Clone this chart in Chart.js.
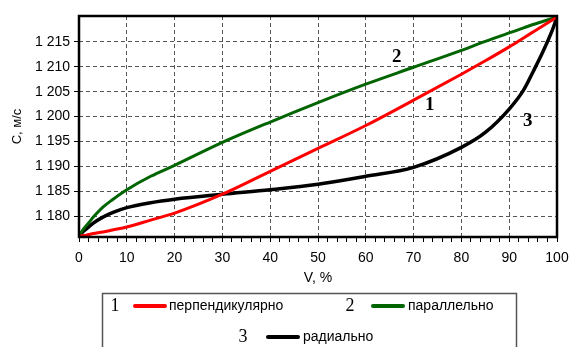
<!DOCTYPE html>
<html>
<head>
<meta charset="utf-8">
<script src="https://cdn.jsdelivr.net/npm/chart.js@4"></script>
<style>
  html, body { margin: 0; padding: 0; background: #fff; }
  canvas { display: block; }
</style>
</head>
<body>
<canvas id="velocityChart" width="569" height="347"></canvas>
<script>
const volumePercent = [0, 1, 2, 3, 5, 7, 10, 15, 20, 30, 40, 50, 60, 70, 80, 85, 90, 93, 95, 97, 99, 100];
const perpendicular = [1176, 1176.1, 1176.3, 1176.5, 1176.8, 1177.2, 1177.8, 1179.2, 1180.6, 1184.4, 1189, 1193.6, 1198.2, 1203.3, 1208.5, 1211.2, 1214, 1215.8, 1217, 1218.2, 1219.4, 1220];
const parallel = [1176, 1177.5, 1178.6, 1179.8, 1181.8, 1183.3, 1185.3, 1188, 1190.2, 1194.8, 1198.9, 1202.8, 1206.5, 1209.9, 1213.3, 1215.1, 1216.8, 1217.8, 1218.5, 1219.1, 1219.7, 1220];
const radial = [1176, 1177, 1177.8, 1178.6, 1179.8, 1180.7, 1181.7, 1182.7, 1183.4, 1184.4, 1185.3, 1186.4, 1188, 1189.8, 1193.8, 1196.8, 1201.5, 1205.3, 1209, 1212.9, 1217.3, 1220];

const seriesNames = ["перпендикулярно", "параллельно", "радиально"];
const seriesNumbers = ["1", "2", "3"];
const seriesColors = ["#ff0000", "#006400", "#000000"];

const yTickValues = [1180, 1185, 1190, 1195, 1200, 1205, 1210, 1215];
const xTickStep = 2;

// where the curve numbers sit, in data units
const curveLabels = [
  { text: "2", x: 66.5, y: 1212 },
  { text: "1", x: 73.4, y: 1202.4 },
  { text: "3", x: 93.9, y: 1199 },
];

function toPoints(values) {
  return values.map((v, i) => ({ x: volumePercent[i], y: v }));
}

function formatThousands(value) {
  const head = Math.floor(value / 1000);
  const tail = String(value % 1000).padStart(3, "0");
  return `${head} ${tail}`;
}

function isMajorInner(value) {
  return value % 10 === 0 && value > 0 && value < 100;
}

const framePlugin = {
  id: "frame",
  afterDraw(chart) {
    const { ctx, chartArea, scales } = chart;
    const { left, right, top, bottom } = chartArea;
    ctx.save();

    ctx.strokeStyle = "#000";
    ctx.lineWidth = 2.5;
    ctx.strokeRect(left, top, right - left, bottom - top);

    // curve numbers
    ctx.fillStyle = "#000";
    ctx.font = "bold 19px 'Liberation Serif', 'Times New Roman', serif";
    ctx.textAlign = "center";
    ctx.textBaseline = "middle";
    curveLabels.forEach((label) => {
      ctx.fillText(label.text, scales.x.getPixelForValue(label.x), scales.y.getPixelForValue(label.y));
    });

    drawLegend(ctx);
    ctx.restore();
  },
};

function drawLegend(ctx) {
  ctx.strokeStyle = "#555";
  ctx.lineWidth = 1.5;
  ctx.strokeRect(102.5, 293.5, 414, 60);

  const items = [
    { num: 115, line: 135, text: 169, y: 306 },
    { num: 350, line: 373, text: 408, y: 306 },
    { num: 243, line: 268, text: 303, y: 337 },
  ];
  items.forEach((item, i) => {
    ctx.fillStyle = "#000";
    ctx.font = "18px 'Liberation Serif', 'Times New Roman', serif";
    ctx.textAlign = "center";
    ctx.textBaseline = "middle";
    ctx.fillText(seriesNumbers[i], item.num, item.y);

    ctx.strokeStyle = seriesColors[i];
    ctx.lineWidth = 4;
    ctx.lineCap = "round";
    ctx.beginPath();
    ctx.moveTo(item.line, item.y);
    ctx.lineTo(item.line + 30, item.y);
    ctx.stroke();

    ctx.fillStyle = "#000";
    ctx.font = "14px 'Liberation Sans', Arial, sans-serif";
    ctx.textAlign = "left";
    ctx.fillText(seriesNames[i], item.text, item.y);
  });
}

new Chart(document.getElementById("velocityChart"), {
  type: "line",
  data: {
    datasets: [perpendicular, parallel, radial].map((values, i) => ({
      label: seriesNames[i],
      data: toPoints(values),
      borderColor: seriesColors[i],
      borderWidth: i === 2 ? 3.5 : 3,
      pointRadius: 0,
      cubicInterpolationMode: "monotone",
      fill: false,
    })),
  },
  options: {
    responsive: false,
    animation: false,
    layout: { padding: { top: 16, right: 0, bottom: 60, left: 0 } },
    plugins: {
      legend: { display: false },
      tooltip: { enabled: false },
    },
    scales: {
      x: {
        type: "linear",
        min: 0,
        max: 100,
        afterFit: (scale) => {
          scale.height = 50;
          scale.paddingLeft = 0;
          scale.paddingRight = 12;
        },
        ticks: {
          stepSize: xTickStep,
          autoSkip: false,
          maxRotation: 0,
          padding: 8,
          color: "#000",
          font: { family: "'Liberation Sans', Arial, sans-serif", size: 14 },
          callback: (v) => (v % 10 === 0 ? String(v) : ""),
        },
        grid: {
          drawTicks: true,
          tickLength: 5,
          tickColor: "#000",
          lineWidth: 1,
          color: (c) => (c.tick && isMajorInner(c.tick.value) ? "#555" : "rgba(0,0,0,0)"),
        },
        border: { display: false, dash: [4, 3] },
        title: {
          display: true,
          text: "V, %",
          color: "#000",
          font: { family: "'Liberation Sans', Arial, sans-serif", size: 14 },
          padding: { top: 0, bottom: 0 },
        },
      },
      y: {
        type: "linear",
        min: 1175.8,
        max: 1220.2,
        afterFit: (scale) => { scale.width = 79; },
        afterBuildTicks: (scale) => {
          scale.ticks = yTickValues.map((v) => ({ value: v }));
        },
        ticks: {
          padding: 4,
          color: "#000",
          font: { family: "'Liberation Sans', Arial, sans-serif", size: 14 },
          callback: (v) => formatThousands(v),
        },
        grid: {
          drawTicks: true,
          tickLength: 5,
          tickColor: "#000",
          lineWidth: 1,
          color: "#555",
        },
        border: { display: false, dash: [4, 3] },
        title: {
          display: true,
          text: "С, м/с",
          color: "#000",
          font: { family: "'Liberation Sans', Arial, sans-serif", size: 13 },
          padding: { top: 10, bottom: 0 },
        },
      },
    },
  },
  plugins: [framePlugin],
});
</script>
</body>
</html>
